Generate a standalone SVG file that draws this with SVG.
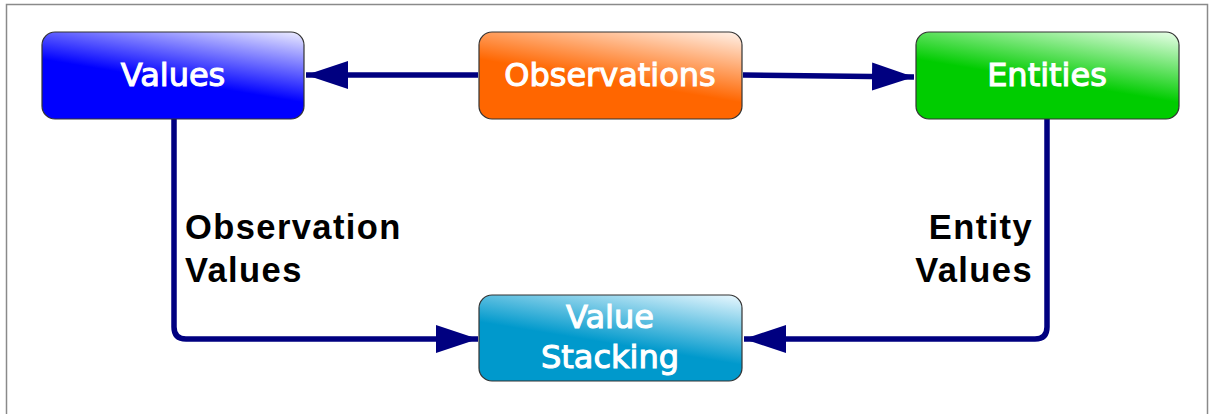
<svg xmlns="http://www.w3.org/2000/svg" width="1214" height="414" viewBox="0 0 1214 414">
<style>
.node rect{stroke:#333;stroke-width:1.2}
.nt{font-family:"DejaVu Sans",Verdana,sans-serif;font-size:32px;fill:#fff;stroke:#fff;stroke-width:1.1px;text-anchor:middle}
.lbl{font-family:"Liberation Sans",Arial,sans-serif;font-weight:bold;font-size:34.5px;letter-spacing:1.4px;fill:#000}
.conn{fill:none;stroke:#000080;stroke-width:5.5;stroke-linejoin:round}
</style>
<defs>
<linearGradient id="gB" x1="1" y1="0" x2="0.5" y2="1"><stop offset="0" stop-color="#eeeeff"/><stop offset="0.65" stop-color="#0000ff"/><stop offset="1" stop-color="#0000ff"/></linearGradient>
<linearGradient id="gO" x1="1" y1="0" x2="0.5" y2="1"><stop offset="0" stop-color="#fff2ea"/><stop offset="0.65" stop-color="#ff6600"/><stop offset="1" stop-color="#ff6600"/></linearGradient>
<linearGradient id="gG" x1="1" y1="0" x2="0.5" y2="1"><stop offset="0" stop-color="#eaffea"/><stop offset="0.65" stop-color="#00cc00"/><stop offset="1" stop-color="#00cc00"/></linearGradient>
<linearGradient id="gC" x1="1" y1="0" x2="0.5" y2="1"><stop offset="0" stop-color="#eaf8ff"/><stop offset="0.65" stop-color="#0099cc"/><stop offset="1" stop-color="#0099cc"/></linearGradient>
<marker id="ah" markerUnits="userSpaceOnUse" markerWidth="44" markerHeight="32" refX="42" refY="16" orient="auto"><path d="M0,2 L42,16 L0,30 Z" fill="#000080"/></marker>
</defs>
<rect x="0" y="0" width="1214" height="414" fill="#fff"/>
<rect x="6.5" y="4.5" width="1201" height="420" fill="none" stroke="#8a8a8a" stroke-width="1.5"/>
<g id="connectors">
<path class="conn" d="M478,75 L306,75" marker-end="url(#ah)"/>
<path class="conn" d="M743,75 L914,77" marker-end="url(#ah)"/>
<path class="conn" d="M174,119 L174,327 Q174,339 186,339 L478,339" marker-end="url(#ah)"/>
<path class="conn" d="M1047,119 L1047,327 Q1047,339 1035,339 L744,339" marker-end="url(#ah)"/>
</g>
<g id="values" class="node"><rect x="42" y="32" width="262" height="87" rx="13" fill="url(#gB)"/><text class="nt" x="173" y="86">Values</text></g>
<g id="observations" class="node"><rect x="479" y="32" width="263" height="87" rx="13" fill="url(#gO)"/><text class="nt" x="610" y="86">Observations</text></g>
<g id="entities" class="node"><rect x="916" y="32" width="263" height="87" rx="13" fill="url(#gG)"/><text class="nt" x="1047" y="86">Entities</text></g>
<g id="value-stacking" class="node"><rect x="479" y="295" width="263" height="86" rx="13" fill="url(#gC)"/><text class="nt" x="610" y="328">Value</text><text class="nt" x="610" y="368">Stacking</text></g>
<g id="labels">
<text class="lbl" x="185" y="239">Observation</text><text class="lbl" x="185" y="282">Values</text>
<text class="lbl" x="1033" y="239" text-anchor="end">Entity</text><text class="lbl" x="1033" y="282" text-anchor="end">Values</text>
</g>
</svg>
